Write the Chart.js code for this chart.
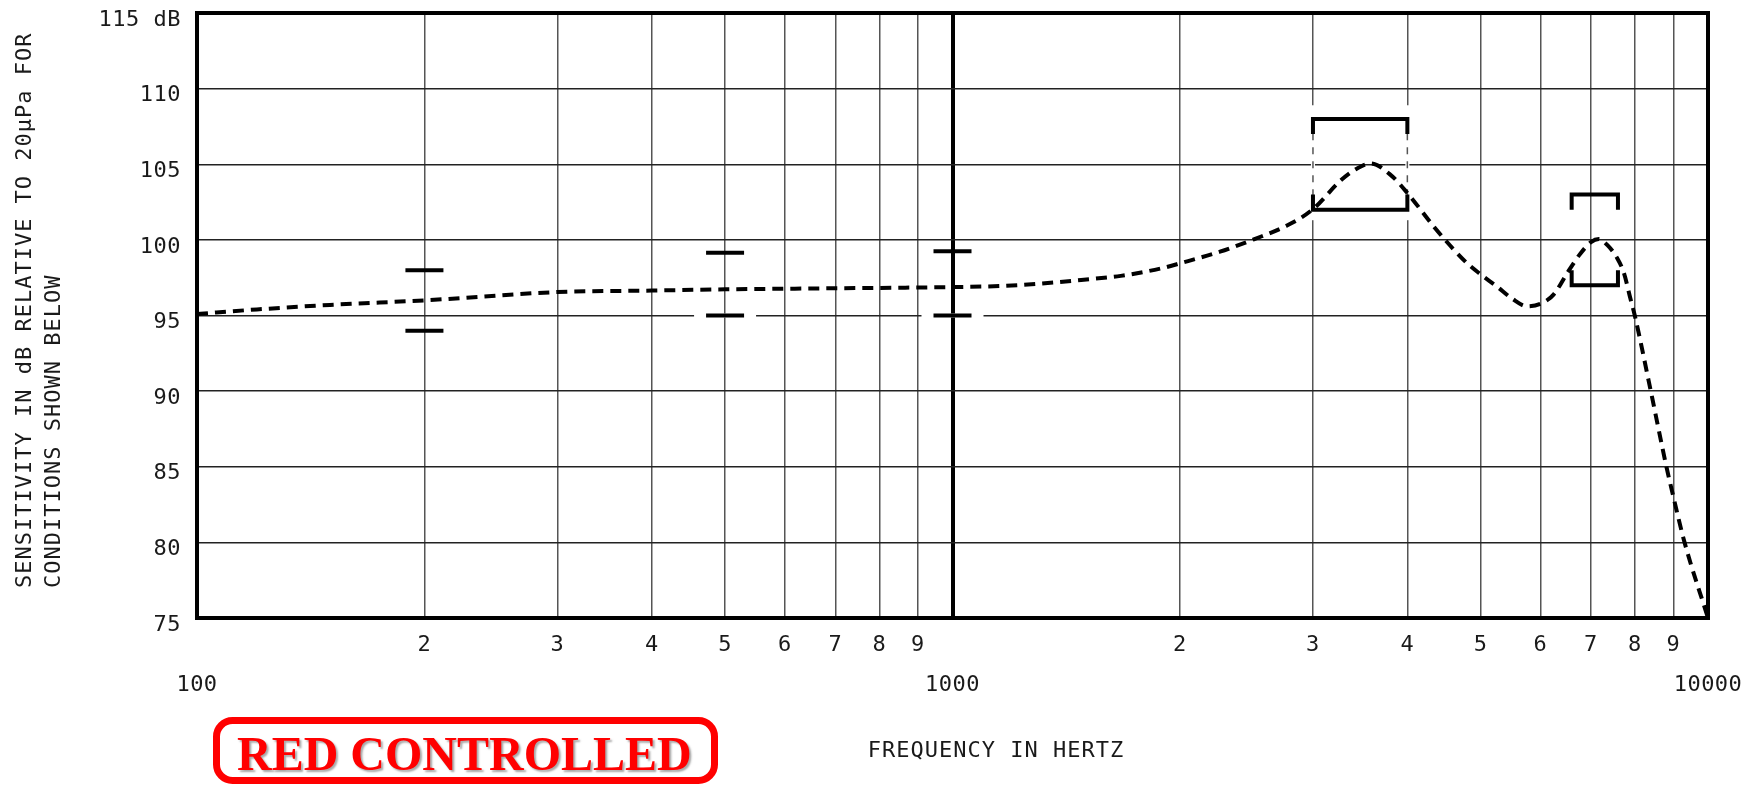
<!DOCTYPE html>
<html>
<head>
<meta charset="utf-8">
<script src="https://cdn.jsdelivr.net/npm/chart.js@4.4.1/dist/chart.umd.min.js"></script>
<style>
  html, body { margin: 0; padding: 0; background: #fff; }
  #wrap { width: 1764px; height: 785px; position: relative; }
</style>
</head>
<body>
<div id="wrap"><canvas id="chart"></canvas></div>
<script>
// response curve (Hz, dB)
const curveFreq = [100, 120, 150, 200, 300, 400, 500, 700, 1000, 1160, 1300, 1480, 1670, 1890, 2000, 2260, 2500, 2780, 3000, 3260, 3400, 3575, 3800, 4000, 4340, 4600, 4800, 5000, 5260, 5510, 5770, 6020, 6250, 6510, 6780, 7000, 7170, 7360, 7580, 7740, 7900, 8000, 8400, 8810, 9000, 9310, 10000];
const curveDb = [95.1, 95.4, 95.7, 96.0, 96.55, 96.65, 96.73, 96.8, 96.88, 96.95, 97.1, 97.35, 97.62, 98.12, 98.45, 99.22, 100.02, 100.98, 102.03, 103.9, 104.6, 105.05, 104.3, 103.1, 100.85, 99.4, 98.45, 97.72, 96.9, 96.1, 95.6, 95.8, 96.4, 97.8, 99.1, 99.85, 100.05, 99.65, 98.8, 97.8, 96.05, 95.0, 90.0, 85.0, 83.0, 80.0, 75.0];

// tolerance caps
const capFreq = [200, 500, 1000];
const capHigh = [98, 99.15, 99.25];
const capLow = [94, 95, 95];

// tolerance brackets
const bandLowF = [3000, 6600];
const bandHighF = [4000, 7600];
const bandUpper = [108, 103];
const bandLower = [102, 97];

const xTicks = [100, 200, 300, 400, 500, 600, 700, 800, 900, 1000, 2000, 3000, 4000, 5000, 6000, 7000, 8000, 9000, 10000];
const xMajor = [100, 1000, 10000];
const yMin = 75, yMax = 115, yStep = 5;

const cadFont = "'DejaVu Sans Mono', 'Liberation Mono', monospace";
const ink = '#1a1a1a';
const noPad = () => ({ left: 0, top: 0, right: 0, bottom: 0 });

const datasets = [{
  data: curveFreq.map((f, i) => ({ x: f, y: curveDb[i] })),
  showLine: true,
  borderColor: '#000',
  borderWidth: 4,
  borderDash: [11, 7],
  pointRadius: 0,
  cubicInterpolationMode: 'monotone',
  clip: false
}, {
  data: capFreq.flatMap((f, i) => [{ x: f, y: capHigh[i] }, { x: f, y: capLow[i] }]),
  showLine: false,
  pointStyle: 'line',
  pointRadius: 19,
  pointBorderWidth: 4,
  pointBorderColor: '#000'
}];

bandLowF.forEach((f0, i) => {
  const f1 = bandHighF[i];
  datasets.push({
    data: [{ x: f0, y: bandUpper[i] - 1 }, { x: f0, y: bandUpper[i] }, { x: f1, y: bandUpper[i] }, { x: f1, y: bandUpper[i] - 1 }],
    showLine: true, borderColor: '#000', borderWidth: 4, pointRadius: 0, tension: 0
  });
  datasets.push({
    data: [{ x: f0, y: bandLower[i] + 1 }, { x: f0, y: bandLower[i] }, { x: f1, y: bandLower[i] }, { x: f1, y: bandLower[i] + 1 }],
    showLine: true, borderColor: '#000', borderWidth: 4, pointRadius: 0, tension: 0
  });
});

const spacing = {
  id: 'spacing',
  beforeUpdate(chart) { chart.ctx.letterSpacing = '0.5px'; },
  beforeDraw(chart) { chart.ctx.letterSpacing = '0.5px'; }
};

const decor = {
  id: 'decor',
  beforeDatasetsDraw(chart) {
    const { ctx, scales: { x, y } } = chart;
    ctx.save();
    // gridline breaks where a cap sits on a grid line
    capFreq.forEach((f, i) => {
      [capHigh[i], capLow[i]].forEach(v => {
        if (v % yStep === 0) {
          const px = x.getPixelForValue(f), py = y.getPixelForValue(v);
          ctx.fillStyle = '#fff';
          ctx.fillRect(px - 31, py - 2, 62, 4);
        }
      });
    });
    // dashed gridline inside the wide bracket
    bandLowF.forEach((f0, i) => {
      [f0, bandHighF[i]].forEach(f => {
        if (!xTicks.includes(f)) return;
        const px = x.getPixelForValue(f);
        const top = y.getPixelForValue(bandUpper[i] + 0.9);
        const bot = y.getPixelForValue(bandLower[i] - 0.7);
        ctx.strokeStyle = '#fff';
        ctx.lineWidth = 4;
        ctx.beginPath(); ctx.moveTo(px, top); ctx.lineTo(px, bot); ctx.stroke();
        ctx.strokeStyle = '#555';
        ctx.lineWidth = 1.5;
        ctx.setLineDash([7, 7]);
        ctx.beginPath(); ctx.moveTo(px, top + 14); ctx.lineTo(px, bot - 10); ctx.stroke();
        ctx.setLineDash([]);
      });
    });
    ctx.restore();
  },
  afterDatasetsDraw(chart) {
    const { ctx, chartArea: a } = chart;
    ctx.save();
    ctx.strokeStyle = '#000';
    ctx.lineWidth = 4;
    ctx.strokeRect(a.left, a.top, a.right - a.left, a.bottom - a.top);
    ctx.restore();
  },
  afterDraw(chart) {
    const { ctx } = chart;
    ctx.save();
    ctx.fillStyle = ink;
    ctx.textAlign = 'left';
    ctx.textBaseline = 'alphabetic';
    ctx.letterSpacing = '1px';
    ctx.font = '22px ' + cadFont;
    ctx.translate(31, 588);
    ctx.rotate(-Math.PI / 2);
    ctx.fillText('SENSITIVITY IN dB RELATIVE TO 20µPa FOR', 0, 0);
    ctx.fillText('CONDITIONS SHOWN BELOW', 0, 29);
    ctx.restore();

    ctx.save();
    ctx.fillStyle = ink;
    ctx.letterSpacing = '1px';
    ctx.font = '22px ' + cadFont;
    ctx.textAlign = 'center';
    ctx.textBaseline = 'middle';
    ctx.fillText('FREQUENCY IN HERTZ', 996, 751);
    ctx.restore();

    // stamp
    ctx.save();
    ctx.letterSpacing = '0px';
    ctx.fillStyle = '#fff';
    ctx.strokeStyle = '#ff0000';
    ctx.lineWidth = 7;
    ctx.beginPath();
    ctx.roundRect(216.5, 720.5, 498, 60, 16);
    ctx.fill();
    ctx.stroke();
    ctx.font = "bold 48px 'Liberation Serif', 'Times New Roman', serif";
    ctx.textAlign = 'left';
    ctx.textBaseline = 'alphabetic';
    ctx.shadowColor = 'rgba(110,110,110,0.6)';
    ctx.shadowOffsetX = 2;
    ctx.shadowOffsetY = 2;
    ctx.shadowBlur = 2;
    ctx.fillStyle = '#ff0000';
    ctx.fillText('RED CONTROLLED', 237, 770);
    ctx.restore();
  }
};

new Chart(document.getElementById('chart'), {
  type: 'scatter',
  data: { datasets },
  options: {
    responsive: true,
    maintainAspectRatio: false,
    animation: false,
    events: [],
    layout: { autoPadding: false, padding: { top: 13, right: 56, left: 0, bottom: 0 } },
    plugins: { legend: { display: false }, tooltip: { enabled: false } },
    scales: {
      x: {
        type: 'logarithmic',
        min: 100,
        max: 10000,
        afterBuildTicks: s => { s.ticks = xTicks.map(v => ({ value: v })); },
        afterFit: s => { s.height = 167; s.getPadding = noPad; },
        border: { display: false },
        grid: {
          drawTicks: false,
          color: ctx => ctx.tick && ctx.tick.value === 1000 ? '#000' : '#555',
          lineWidth: ctx => ctx.tick && ctx.tick.value === 1000 ? 4 : 1.5
        },
        ticks: {
          autoSkip: false,
          maxRotation: 0,
          minRotation: 0,
          padding: 7,
          color: ink,
          font: { family: cadFont, size: 22, lineHeight: 1.82 },
          callback: v => xMajor.includes(v) ? ['', String(v)] : [String(Math.round(v / Math.pow(10, Math.floor(Math.log10(v) + 1e-9))))]
        }
      },
      y: {
        min: yMin,
        max: yMax,
        afterFit: s => { s.width = 197; s.paddingTop = 0; s.paddingBottom = 0; s.getPadding = noPad; },
        border: { display: false },
        grid: { drawTicks: false, color: '#222', lineWidth: 1.4 },
        ticks: {
          stepSize: yStep,
          padding: 16,
          labelOffset: 7,
          color: ink,
          font: { family: cadFont, size: 22, lineHeight: 1 },
          callback: v => v === yMax ? v + ' dB' : String(v)
        }
      }
    }
  },
  plugins: [spacing, decor]
});
</script>
</body>
</html>
